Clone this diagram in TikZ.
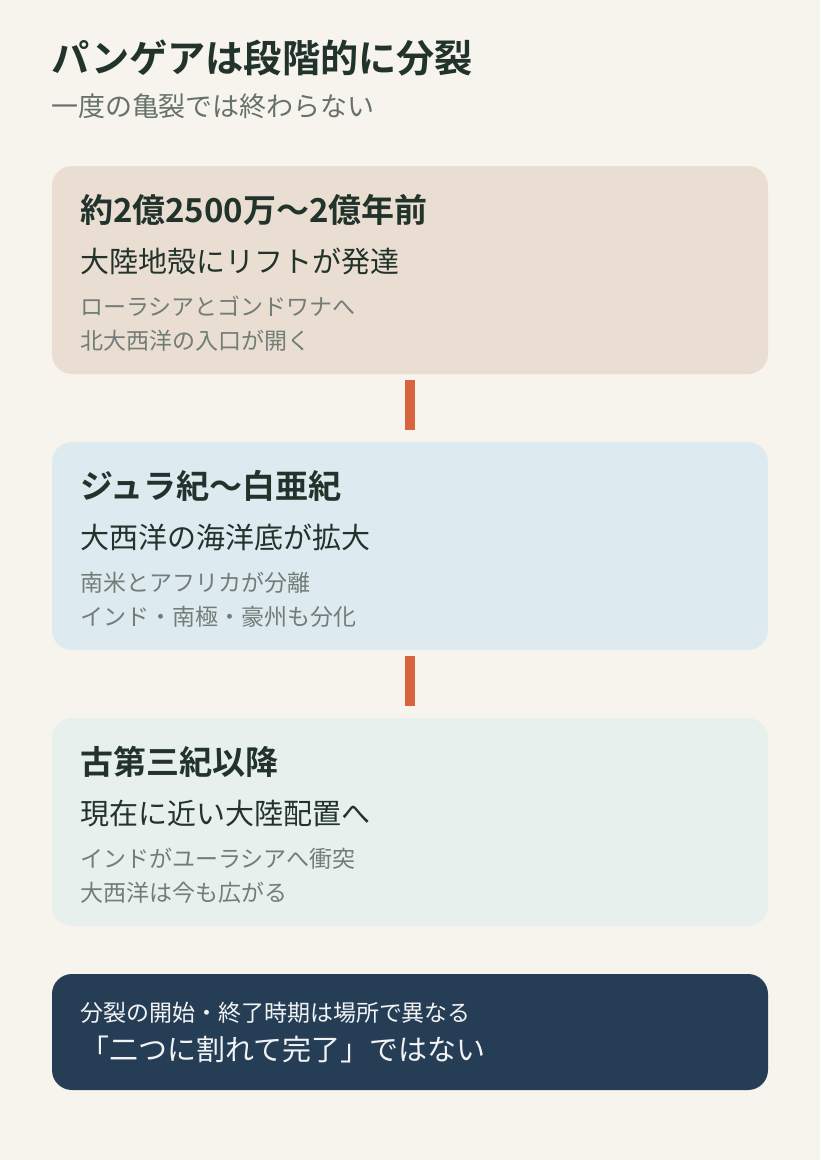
\documentclass[tikz,border=0pt]{standalone}
\usepackage{fontspec}
\setmainfont{Noto Sans CJK JP}[BoldFont={* Bold}]
\definecolor{bgc}{HTML}{F7F4EE}
\definecolor{cardA}{HTML}{E9DED1}
\definecolor{cardB}{HTML}{DDEBF0}
\definecolor{cardC}{HTML}{E8F0ED}
\definecolor{darkc}{HTML}{253E55}
\definecolor{accent}{HTML}{D9623F}
\definecolor{ink}{HTML}{22332C}
\definecolor{subink}{HTML}{66716C}
\definecolor{smallink}{HTML}{737D78}
\definecolor{lightink}{HTML}{F2F3F4}
\newcommand{\fs}[1]{\fontsize{#1}{#1}\selectfont}
\tikzset{
  card/.style={rounded corners=20pt, draw=none, inner sep=0pt, outer sep=0pt,
    minimum width=716pt, anchor=north west},
  txt/.style={anchor=base west, inner sep=0pt, outer sep=0pt},
  titletxt/.style={txt, text=ink, font=\fs{38.2}\bfseries},
  subtitletxt/.style={txt, text=subink, font=\fs{27}},
  headtxt/.style={txt, text=ink, font=\fs{33}\bfseries},
  subheadtxt/.style={txt, text=ink, font=\fs{29}},
  smalltxt/.style={txt, text=smallink, font=\fs{23}},
  darktxtA/.style={txt, text=lightink, font=\fs{23}},
  darktxtB/.style={txt, text=lightink, font=\fs{29}},
  conn/.style={draw=accent, line width=9.5pt, line cap=butt},
}
\begin{document}
\begin{tikzpicture}[x=1pt,y=-1pt]
\useasboundingbox (0,0) rectangle (820,1160);
\fill[bgc] (0,0) rectangle (820,1160);

\node[titletxt] (title) at (51,72) {パンゲアは段階的に分裂};
\node[subtitletxt] (subtitle) at (51,116) {一度の亀裂では終わらない};

% cards
\node[card, fill=cardA, minimum height=208pt] (c1) at (52,166) {};
\node[card, fill=cardB, minimum height=208pt] (c2) at (52,442) {};
\node[card, fill=cardC, minimum height=208pt] (c3) at (52,718) {};
\node[card, fill=darkc, minimum height=116pt] (c4) at (52,974) {};

% connectors
\draw[conn, shorten <=6pt, shorten >=12pt] (c1.south) -- (c2.north);
\draw[conn, shorten <=6pt, shorten >=12pt] (c2.south) -- (c3.north);

% card 1
\node[headtxt] (h1) at (80,222) {約2億2500万～2億年前};
\node[subheadtxt] (s1) at (80,272) {大陸地殻にリフトが発達};
\node[smalltxt] (a1) at (80,315) {ローラシアとゴンドワナへ};
\node[smalltxt] (b1) at (80,349) {北大西洋の入口が開く};

% card 2
\node[headtxt] (h2) at (80,498) {ジュラ紀～白亜紀};
\node[subheadtxt] (s2) at (80,548) {大西洋の海洋底が拡大};
\node[smalltxt] (a2) at (80,591) {南米とアフリカが分離};
\node[smalltxt] (b2) at (80,625) {インド・南極・豪州も分化};

% card 3
\node[headtxt] (h3) at (80,774) {古第三紀以降};
\node[subheadtxt] (s3) at (80,824) {現在に近い大陸配置へ};
\node[smalltxt] (a3) at (80,867) {インドがユーラシアへ衝突};
\node[smalltxt] (b3) at (80,901) {大西洋は今も広がる};

% dark box
\node[darktxtA] (d1) at (80,1021) {分裂の開始・終了時期は場所で異なる};
\node[darktxtB] (d2) at (80,1060) {「二つに割れて完了」ではない};
\end{tikzpicture}
\end{document}
